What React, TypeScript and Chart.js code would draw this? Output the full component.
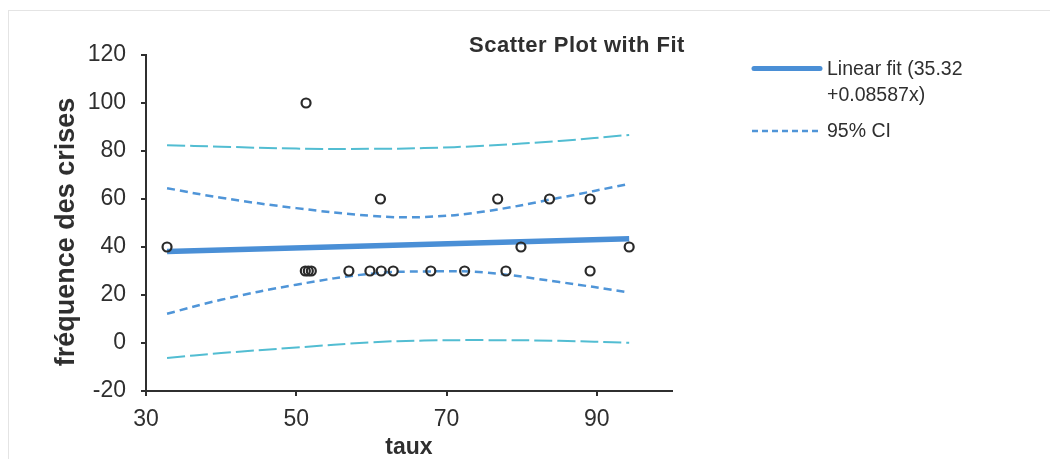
import React, { useEffect, useRef } from "react";
import { Chart, registerables } from "chart.js";

Chart.register(...registerables);

// ---- data ----
const pointsX = [32.8, 51.3, 51.2, 51.6, 52.0, 57.0, 59.8, 61.3, 62.9, 67.9, 72.4, 77.9, 89.1, 61.2, 76.8, 83.7, 89.1, 79.9, 94.3];
const pointsY = [40, 100, 30, 30, 30, 30, 30, 30, 30, 30, 30, 30, 30, 60, 60, 60, 60, 40, 40];

const fitX = [32.8, 94.3];
const fitY = [38.1, 43.4];

const bandX = [32.8, 40, 50, 60, 67, 75, 85, 94.3];
const innerUpper = [64.5, 60.5, 56.2, 53.0, 52.5, 54.8, 60.5, 66.3];
const innerLower = [12.2, 18.0, 24.3, 28.9, 29.8, 29.4, 25.4, 21.1];
const outerUpper = [82.4, 81.8, 81.0, 80.9, 81.2, 82.2, 84.2, 86.7];
const outerLower = [-6.2, -4.2, -1.9, 0.3, 1.0, 1.2, 0.9, 0.1];

const xTicks = [30, 50, 70, 90];
const yMin = -20;
const yMax = 120;

const chartTitle = "Scatter Plot with Fit";
const xTitle = "taux";
const yTitle = "fréquence des crises";
const legendFit = ["Linear fit (35.32", "+0.08587x)"];
const legendCI = "95% CI";

const FONT = "'Liberation Sans', Arial, Helvetica, sans-serif";
const TEXT = "#2f2f2f";
const FIT_COLOR = "#4a8fd6";
const INNER_COLOR = "#4f95d8";
const OUTER_COLOR = "#52bdd2";

const zip = (xs: number[], ys: number[]) => xs.map((x, i) => ({ x, y: ys[i] }));

const decorPlugin = {
  id: "decor",
  beforeDraw(chart: any) {
    const ctx = chart.ctx;
    ctx.save();
    ctx.strokeStyle = "#e4e4e4";
    ctx.lineWidth = 1;
    ctx.strokeRect(8.5, 10.5, 1060, 470);
    ctx.restore();
  },
  afterDraw(chart: any) {
    const ctx = chart.ctx;
    ctx.save();
    // chart title
    ctx.fillStyle = TEXT;
    ctx.font = `bold 22px ${FONT}`;
    ctx.textAlign = "center";
    ctx.textBaseline = "middle";
    try { (ctx as any).letterSpacing = "0.5px"; } catch (e) {}
    ctx.fillText(chartTitle, 577, 46);
    try { (ctx as any).letterSpacing = "0px"; } catch (e) {}

    // y axis title
    ctx.save();
    ctx.translate(67, 232);
    ctx.rotate(-Math.PI / 2);
    ctx.font = `bold 27px ${FONT}`;
    ctx.textAlign = "center";
    ctx.textBaseline = "middle";
    ctx.fillText(yTitle, 0, 0);
    ctx.restore();

    // legend
    ctx.lineCap = "round";
    ctx.strokeStyle = FIT_COLOR;
    ctx.lineWidth = 5;
    ctx.beginPath();
    ctx.moveTo(754, 68.5);
    ctx.lineTo(820, 68.5);
    ctx.stroke();

    ctx.lineCap = "butt";
    ctx.strokeStyle = INNER_COLOR;
    ctx.lineWidth = 2.5;
    ctx.setLineDash([6, 4]);
    ctx.beginPath();
    ctx.moveTo(752, 131);
    ctx.lineTo(822, 131);
    ctx.stroke();
    ctx.setLineDash([]);

    ctx.fillStyle = TEXT;
    ctx.font = `19.5px ${FONT}`;
    ctx.textAlign = "left";
    ctx.textBaseline = "middle";
    ctx.fillText(legendFit[0], 827, 70);
    ctx.fillText(legendFit[1], 827, 96);
    ctx.fillText(legendCI, 827, 132);
    ctx.restore();
  },
};

export default function App() {
  const canvasRef = useRef<HTMLCanvasElement | null>(null);

  useEffect(() => {
    if (!canvasRef.current) return;
    const chart = new Chart(canvasRef.current, {
      type: "scatter",
      data: {
        datasets: [
          {
            label: "data",
            data: zip(pointsX, pointsY),
            pointStyle: "circle",
            pointRadius: 4.5,
            pointBorderWidth: 2.2,
            borderColor: "#2a2a2a",
            backgroundColor: "rgba(255,255,255,0)",
            showLine: false,
          },
          {
            label: "Linear fit",
            data: zip(fitX, fitY),
            showLine: true,
            borderColor: FIT_COLOR,
            borderWidth: 5.5,
            pointRadius: 0,
            fill: false,
          },
          {
            label: "95% CI upper",
            data: zip(bandX, innerUpper),
            showLine: true,
            borderColor: INNER_COLOR,
            borderWidth: 2.5,
            borderDash: [8, 5],
            pointRadius: 0,
            tension: 0.4,
            fill: false,
          },
          {
            label: "95% CI lower",
            data: zip(bandX, innerLower),
            showLine: true,
            borderColor: INNER_COLOR,
            borderWidth: 2.5,
            borderDash: [8, 5],
            pointRadius: 0,
            tension: 0.4,
            fill: false,
          },
          {
            label: "Prediction upper",
            data: zip(bandX, outerUpper),
            showLine: true,
            borderColor: OUTER_COLOR,
            borderWidth: 2,
            borderDash: [18, 5],
            pointRadius: 0,
            tension: 0.4,
            fill: false,
          },
          {
            label: "Prediction lower",
            data: zip(bandX, outerLower),
            showLine: true,
            borderColor: OUTER_COLOR,
            borderWidth: 2,
            borderDash: [18, 5],
            pointRadius: 0,
            tension: 0.4,
            fill: false,
          },
        ],
      },
      options: {
        responsive: false,
        animation: false,
        events: [],
        layout: { padding: { left: 0, top: 55, right: 378, bottom: 0 } },
        plugins: {
          legend: { display: false },
          title: { display: false },
          tooltip: { enabled: false },
        },
        scales: {
          x: {
            type: "linear",
            position: "bottom",
            min: 30,
            max: 100,
            afterBuildTicks: (scale: any) => {
              scale.ticks = xTicks.map((v) => ({ value: v }));
            },
            afterFit: (scale: any) => {
              scale.height = 68;
            },
            ticks: {
              color: TEXT,
              font: { family: FONT, size: 23 },
              padding: 10,
              maxRotation: 0,
            },
            grid: {
              display: true,
              drawOnChartArea: false,
              drawTicks: true,
              tickLength: 5,
              color: TEXT,
              lineWidth: 2,
            },
            border: { display: true, color: TEXT, width: 2 },
            title: {
              display: true,
              text: xTitle,
              color: TEXT,
              font: { family: FONT, size: 23, weight: "bold", lineHeight: 1 },
              padding: { top: 0, bottom: 0 },
            },
          },
          y: {
            type: "linear",
            min: yMin,
            max: yMax,
            afterFit: (scale: any) => {
              scale.width = 146;
            },
            ticks: {
              stepSize: 20,
              color: TEXT,
              font: { family: FONT, size: 23 },
              padding: 15,
            },
            grid: {
              display: true,
              drawOnChartArea: false,
              drawTicks: true,
              tickLength: 5,
              color: TEXT,
              lineWidth: 2,
            },
            border: { display: true, color: TEXT, width: 2 },
            title: { display: false },
          },
        },
      },
      plugins: [decorPlugin],
    } as any);
    return () => chart.destroy();
  }, []);

  return (
    <div style={{ position: "fixed", left: 0, top: 0, width: 1050, height: 459, background: "#ffffff" }}>
      <canvas ref={canvasRef} width={1050} height={459} style={{ display: "block" }} />
    </div>
  );
}
